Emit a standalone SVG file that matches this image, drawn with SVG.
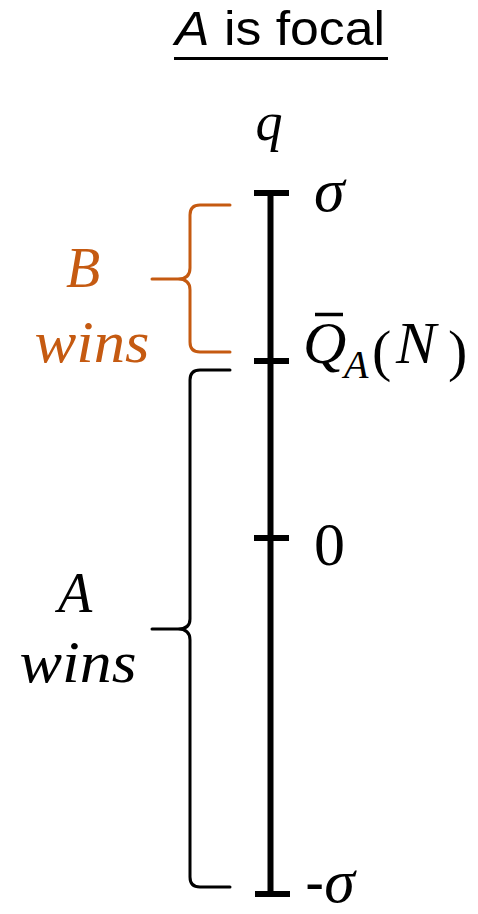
<svg xmlns="http://www.w3.org/2000/svg" width="478" height="914" viewBox="0 0 478 914">
<style>
.m{font-family:"Liberation Serif","DejaVu Serif",serif;font-style:italic}
.t{font-family:"Liberation Sans",Arial,sans-serif}
.ax{stroke:#000;stroke-width:6;fill:none}
.br{fill:none;stroke-width:3;stroke-linecap:round;stroke-linejoin:round}
</style>
<rect width="478" height="914" fill="#fff"/>
<g id="title">
<text class="t" x="175" y="45" font-size="48" textLength="210" lengthAdjust="spacingAndGlyphs"><tspan font-style="italic">A</tspan> is focal</text>
<line x1="174" y1="58.5" x2="388" y2="58.5" stroke="#000" stroke-width="3"/>
</g>
<g id="axis">
<text class="m" x="269" y="140" font-size="54" text-anchor="middle">q</text>
<line class="ax" x1="270.5" y1="193" x2="270.5" y2="894"/>
<line class="ax" x1="254" y1="193" x2="289" y2="193"/>
<line class="ax" x1="254" y1="361" x2="289" y2="361"/>
<line class="ax" x1="254" y1="538" x2="289" y2="538"/>
<line class="ax" x1="255" y1="894" x2="290" y2="894"/>
</g>
<g id="labels">
<text class="m" x="314" y="211" font-size="62">σ</text>
<g id="qbar">
<line x1="315" y1="314.5" x2="343" y2="314.5" stroke="#000" stroke-width="3.5"/>
<text class="m" x="303" y="363" font-size="60">Q</text>
<text class="m" x="344" y="378" font-size="40">A</text>
<text x="372" y="370" font-size="58" font-family="Liberation Serif, serif">(</text>
<text class="m" x="396" y="363" font-size="60">N</text>
<text x="448" y="370" font-size="58" font-family="Liberation Serif, serif">)</text>
</g>
<text x="314" y="565" font-size="62" font-family="Liberation Serif, serif">0</text>
<text x="305" y="902" font-size="58"><tspan font-family="Liberation Sans, sans-serif">-</tspan><tspan class="m" font-size="62">σ</tspan></text>
</g>
<g id="bwins" fill="#C55A11">
<path class="br" stroke="#C55A11" d="M230,205 L200,205 Q190,205 190,215 L190,268 Q190,279 178,279 L152,279 M178,279 Q190,279 190,290 L190,342 Q190,352 200,352 L230,352"/>
<text class="m" x="83" y="287" font-size="56" text-anchor="middle">B</text>
<text class="m" x="92" y="362" font-size="60" text-anchor="middle" textLength="115" lengthAdjust="spacingAndGlyphs">wins</text>
</g>
<g id="awins">
<path class="br" stroke="#000" d="M230,370 L200,370 Q190,370 190,380 L190,619 Q190,629 178,629 L152,629 M178,629 Q190,629 190,640 L190,877 Q190,887 200,887 L230,887"/>
<text class="m" x="75" y="612" font-size="56" text-anchor="middle">A</text>
<text class="m" x="78" y="682" font-size="60" text-anchor="middle" textLength="117" lengthAdjust="spacingAndGlyphs">wins</text>
</g>
</svg>
